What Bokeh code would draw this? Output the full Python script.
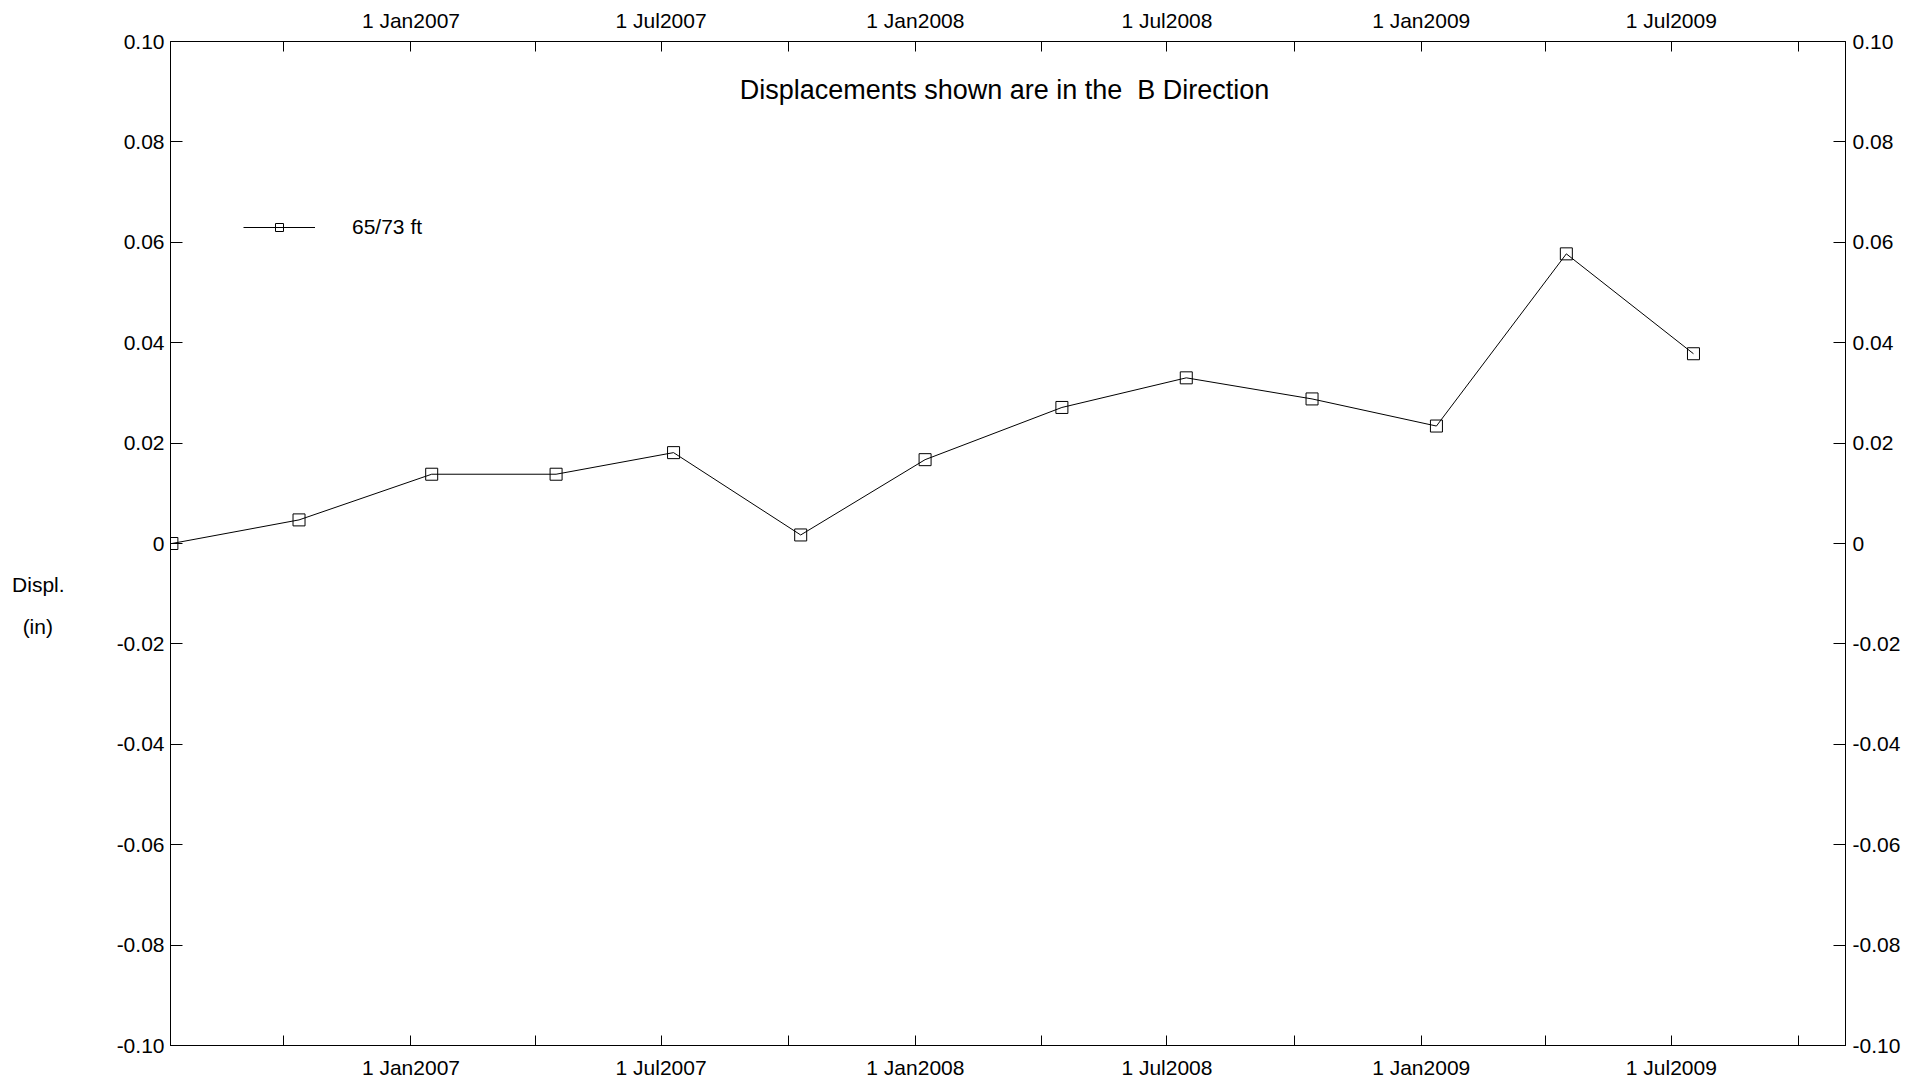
import pandas as pd
from bokeh.plotting import figure
from bokeh.models import (Range1d, FixedTicker, CustomJSTickFormatter, LinearAxis,
                          DatetimeAxis, Label, Legend, LegendItem)
from bokeh.embed import file_html
from bokeh.resources import INLINE

# ---------------- data ----------------
dates = ["2006-07-12", "2006-10-12", "2007-01-16", "2007-04-16", "2007-07-10",
         "2007-10-10", "2008-01-08", "2008-04-16", "2008-07-15", "2008-10-14",
         "2009-01-12", "2009-04-16", "2009-07-17"]
displ = [0.0000, 0.0047, 0.0138, 0.0138, 0.0181, 0.0017, 0.0167,
         0.0271, 0.0330, 0.0288, 0.0234, 0.0577, 0.0378]
series_name = "65/73 ft"

title_text = "Displacements shown are in the \u00a0B Direction"
y_label_text = "\n\n\nDispl.\n(in)\u00a0\u00a0"

x_start, x_end = "2006-07-11", "2009-11-04"
x_tick_dates = ["2006-10-01", "2007-01-01", "2007-04-01", "2007-07-01", "2007-10-01",
                "2008-01-01", "2008-04-01", "2008-07-01", "2008-10-01", "2009-01-01",
                "2009-04-01", "2009-07-01", "2009-10-01"]
x_tick_labels = ["", "1 Jan2007", "", "1 Jul2007", "", "1 Jan2008", "", "1 Jul2008",
                 "", "1 Jan2009", "", "1 Jul2009", ""]
y_ticks = [-0.10, -0.08, -0.06, -0.04, -0.02, 0.0, 0.02, 0.04, 0.06, 0.08, 0.10]
y_tick_labels = ["-0.10", "-0.08", "-0.06", "-0.04", "-0.02", "0",
                 "0.02", "0.04", "0.06", "0.08", "0.10"]

# ---------------- helpers ----------------
def to_ms(d):
    return float(pd.Timestamp(d).value // 10**6)

x_vals = [pd.Timestamp(d) for d in dates]
x_tick_ms = [to_ms(d) for d in x_tick_dates]

lookup_code = """
let best = -1, bd = Infinity;
for (let i = 0; i < tvals.length; i++) {
  const d = Math.abs(tvals[i] - tick);
  if (d < bd) { bd = d; best = i; }
}
return (best >= 0 && bd < tol) ? tlabels[best] : "";
"""

def x_formatter():
    return CustomJSTickFormatter(args=dict(tvals=x_tick_ms, tlabels=x_tick_labels, tol=86400000.0),
                                 code=lookup_code)

def y_formatter():
    return CustomJSTickFormatter(args=dict(tvals=y_ticks, tlabels=y_tick_labels, tol=1e-6),
                                 code=lookup_code)

FONT = "Liberation Sans"

p = figure(width=1906, height=1081, x_axis_type="datetime",
           x_range=Range1d(pd.Timestamp(x_start), pd.Timestamp(x_end)),
           y_range=Range1d(-0.1, 0.1),
           output_backend="svg", toolbar_location=None,
           min_border_left=170, min_border_right=61, min_border_top=41, min_border_bottom=36)
p.grid.visible = False
p.outline_line_color = "black"
p.background_fill_color = "white"
p.border_fill_color = "white"

bottom_axis = p.below[0]
left_axis = p.left[0]
top_axis = DatetimeAxis()
right_axis = LinearAxis()
p.add_layout(top_axis, "above")
p.add_layout(right_axis, "right")

def style_axis(ax, tick_in, standoff):
    ax.axis_line_color = "black"
    ax.axis_line_width = 1
    ax.major_tick_line_color = "black"
    ax.major_tick_in = tick_in
    ax.major_tick_out = 0
    ax.minor_tick_line_color = None
    ax.major_label_text_font = FONT
    ax.major_label_text_font_size = "21px"
    ax.major_label_text_color = "black"
    ax.major_label_standoff = standoff

for ax in [bottom_axis, top_axis]:
    ax.ticker = FixedTicker(ticks=x_tick_ms, minor_ticks=[])
    ax.formatter = x_formatter()
style_axis(bottom_axis, 10, 10)
style_axis(top_axis, 10, 10)

for ax in [left_axis, right_axis]:
    ax.ticker = FixedTicker(ticks=y_ticks, minor_ticks=[])
    ax.formatter = y_formatter()
    ax.major_label_text_baseline = "alphabetic"
style_axis(left_axis, 12, 6)
style_axis(right_axis, 12, 7)

# y axis label, horizontal
left_axis.axis_label = y_label_text
left_axis.axis_label_text_font = FONT
left_axis.axis_label_text_font_style = "normal"
left_axis.axis_label_text_font_size = "21px"
left_axis.axis_label_text_color = "black"
left_axis.axis_label_text_line_height = 1.8
left_axis.axis_label_standoff = 49
if "axis_label_orientation" in left_axis.properties():
    left_axis.axis_label_orientation = "horizontal"

line_r = p.line(x_vals, displ, line_color="black", line_width=1)
sc_r = p.scatter(x_vals, displ, marker="square", size=12, line_color="black",
                 fill_color=None, line_width=1)

legend = Legend(items=[LegendItem(label=series_name, renderers=[line_r, sc_r])],
                location=(73, 806), glyph_width=72, glyph_height=20, label_height=20,
                label_standoff=37, padding=0, margin=0, border_line_color=None,
                background_fill_alpha=0, label_text_font=FONT,
                label_text_font_size="21px", label_text_color="black")
p.add_layout(legend)

p.add_layout(Label(x=834, y=956, x_units="screen", y_units="screen", text=title_text,
                   text_align="center", text_baseline="middle", text_font=FONT,
                   text_font_size="27px", text_color="black"))

open("out.html", "w").write(file_html(p, INLINE))
